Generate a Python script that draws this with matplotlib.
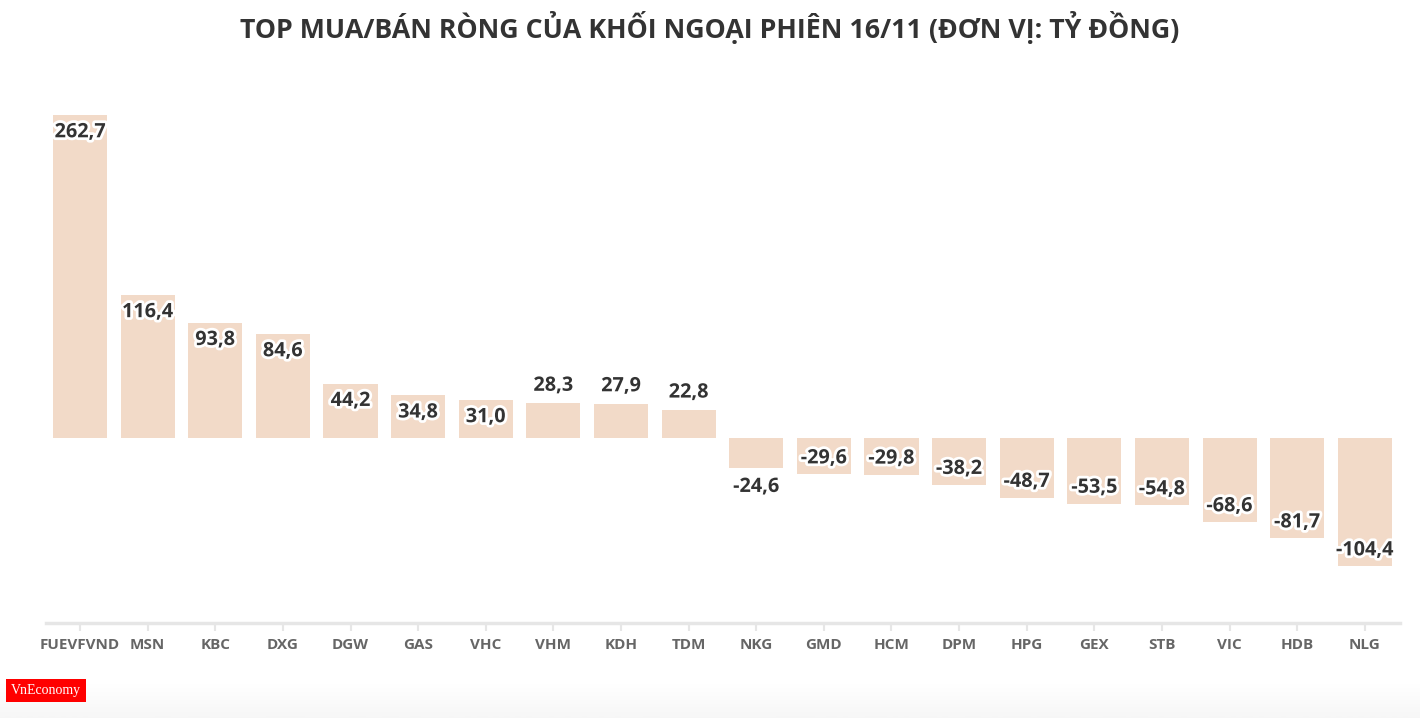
import numpy as np
import matplotlib
matplotlib.use("Agg")
import matplotlib.pyplot as plt
import matplotlib.patheffects as pe

tickers = ["FUEVFVND", "MSN", "KBC", "DXG", "DGW", "GAS", "VHC", "VHM", "KDH", "TDM",
           "NKG", "GMD", "HCM", "DPM", "HPG", "GEX", "STB", "VIC", "HDB", "NLG"]
values = [262.7, 116.4, 93.8, 84.6, 44.2, 34.8, 31.0, 28.3, 27.9, 22.8,
          -24.6, -29.6, -29.8, -38.2, -48.7, -53.5, -54.8, -68.6, -81.7, -104.4]
title = "TOP MUA/BÁN RÒNG CỦA KHỐI NGOẠI PHIÊN 16/11 (ĐƠN VỊ: TỶ ĐỒNG)"

plt.rcParams['font.family'] = ['Open Sans', 'DejaVu Sans']

fig = plt.figure(figsize=(14.2, 7.18), dpi=100)
ax = fig.add_axes([0.0324, 0.1323, 0.9535, 0.7424])

x = np.arange(len(tickers))
ax.bar(x, values, width=0.8, color="#f2dac8", zorder=2)

stroke = [pe.withStroke(linewidth=4, foreground="white")]
for xi, v in zip(x, values):
    label = f"{v:.1f}".replace(".", ",")
    inside = abs(v) >= 29
    if v >= 0:
        dy = -12.5 if inside else 12.5
    else:
        dy = 11.5 if inside else -13.5
    ax.annotate(label, (xi, v), xytext=(0, dy), textcoords="offset points",
                ha="center", va="center", fontsize=14.3, fontweight="bold",
                color="#333333", path_effects=stroke, zorder=3)

ax.set_xlim(-0.503, 19.52)
ax.set_ylim(-150.5, 283)
ax.set_xticks(x)
ax.set_xticklabels(tickers, fontsize=11, fontweight="bold", color="#666666")
ax.set_yticks([])
for s in ["top", "right", "left"]:
    ax.spines[s].set_visible(False)
ax.spines["bottom"].set_color("#e6e6e6")
ax.spines["bottom"].set_linewidth(2.5)
ax.tick_params(axis="x", length=6, width=1.5, color="#e6e6e6", pad=4.5)

fig.text(0.5, 0.962, title, ha="center", va="center", fontsize=19.3,
         fontweight="bold", color="#333333")

# bottom shading
grad_ax = fig.add_axes([0, 0, 1, 0.05], zorder=-1)
grad = np.linspace(0, 1, 50).reshape(-1, 1)
grad_ax.imshow(grad, aspect="auto", cmap="Greys", vmin=0, vmax=14, extent=[0, 1, 0, 1])
grad_ax.axis("off")

# logo
fig.text(0.0075, 0.0385, "VnEconomy", fontsize=10, color="white",
         family=["Liberation Serif", "DejaVu Serif"], va="center", ha="left",
         bbox=dict(boxstyle="square,pad=0.35", facecolor="#ff0000", edgecolor="none"))

fig.savefig("out.png", dpi=100)
